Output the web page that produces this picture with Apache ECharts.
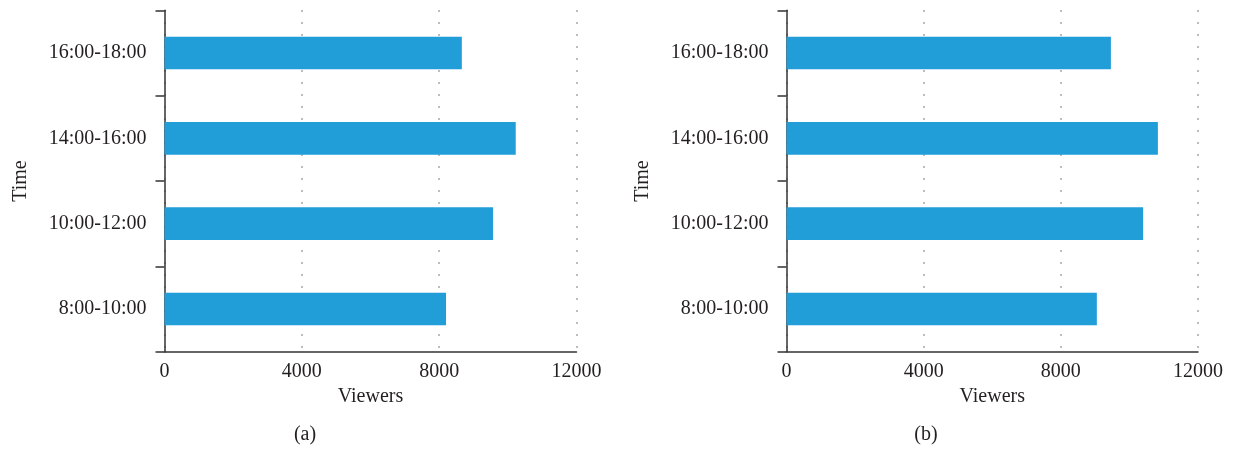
<!DOCTYPE html>
<html>
<head>
<meta charset="utf-8">
<script src="https://cdn.jsdelivr.net/npm/echarts@6/dist/echarts.min.js"></script>
<style>
  html, body { margin: 0; padding: 0; background: #fff; }
  #chart { width: 1235px; height: 453px; }
</style>
</head>
<body>
<div id="chart"></div>
<script>
// Time slots, bottom to top
const timeSlots = ['8:00-10:00', '10:00-12:00', '14:00-16:00', '16:00-18:00'];
// Viewer counts per time slot for each panel
const viewersA = [8200, 9570, 10230, 8660];
const viewersB = [9050, 10400, 10830, 9460];
// Value axis ticks
const viewerTicks = [0, 4000, 8000, 12000];
const panelLabels = ['(a)', '(b)'];

const FONT = 'Liberation Serif';
const TEXT = '#231f20';
const AXIS = '#333';
const BAR = '#219dd8';

function xAxisFor(gridIndex) {
  return {
    type: 'value', gridIndex,
    min: viewerTicks[0], max: viewerTicks[viewerTicks.length - 1],
    interval: viewerTicks[1] - viewerTicks[0],
    name: 'Viewers', nameLocation: 'middle', nameGap: 34,
    nameTextStyle: { fontFamily: FONT, fontSize: 20, color: TEXT },
    axisLine: { show: true, lineStyle: { color: AXIS, width: 1.5 } },
    axisTick: { show: false },
    axisLabel: { fontFamily: FONT, fontSize: 20, color: TEXT, margin: 10,
      formatter: v => String(v) },
    splitLine: { show: true, lineStyle: { color: '#8a8a8a', width: 1.5, type: [1.5, 10.5] } }
  };
}

function yAxisFor(gridIndex) {
  return {
    type: 'category', gridIndex, data: timeSlots,
    name: 'Time', nameLocation: 'middle', nameGap: 134,
    nameTextStyle: { fontFamily: FONT, fontSize: 20, color: TEXT },
    axisLine: { show: true, lineStyle: { color: AXIS, width: 1.5 } },
    axisTick: { show: true, length: 9, lineStyle: { color: AXIS, width: 1.5 } },
    axisLabel: { fontFamily: FONT, fontSize: 20, color: TEXT, margin: 18 },
    splitLine: { show: false }
  };
}

const chart = echarts.init(document.getElementById('chart'), null, { renderer: 'canvas' });
chart.setOption({
  animation: false,
  backgroundColor: '#fff',
  grid: [
    { left: 164.5, top: 10.3, width: 412, height: 341.4 },
    { left: 786.5, top: 10.3, width: 411.5, height: 341.4 }
  ],
  xAxis: [xAxisFor(0), xAxisFor(1)],
  yAxis: [yAxisFor(0), yAxisFor(1)],
  series: [
    { type: 'bar', xAxisIndex: 0, yAxisIndex: 0, data: viewersA, barWidth: '38.3%', itemStyle: { color: BAR } },
    { type: 'bar', xAxisIndex: 1, yAxisIndex: 1, data: viewersB, barWidth: '38.3%', itemStyle: { color: BAR } }
  ],
  // panel captions under each chart
  graphic: [
    { type: 'text', x: 305, y: 435, style: { text: panelLabels[0], fontFamily: FONT, fontSize: 20,
      fill: TEXT, align: 'center', verticalAlign: 'middle' } },
    { type: 'text', x: 926, y: 435, style: { text: panelLabels[1], fontFamily: FONT, fontSize: 20,
      fill: TEXT, align: 'center', verticalAlign: 'middle' } }
  ]
});
</script>
</body>
</html>
